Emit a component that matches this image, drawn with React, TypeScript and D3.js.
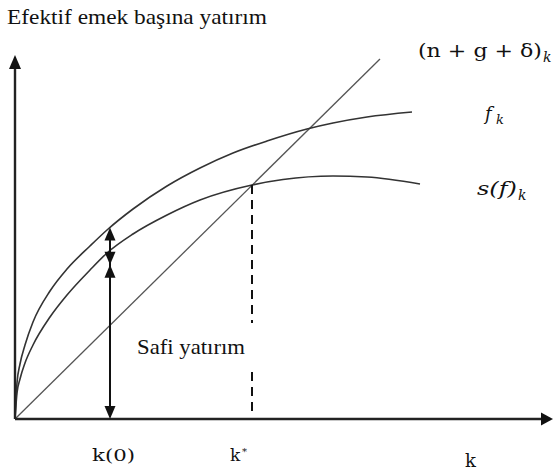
import React from 'react';
import * as d3 from 'd3';

const W = 553;
const H = 473;

// Capital per effective worker (k) and the heights of each curve at those k
const fK = [0, 2, 5, 10, 18, 35, 52, 75, 92, 118, 152, 185, 218, 252, 292, 318, 352, 397];
const fV = [0, 36, 55, 74, 97, 128, 150, 173, 189, 210, 233, 251, 266, 278, 290, 296, 302, 307];
const sK = [0, 2, 5, 10, 18, 35, 52, 75, 92, 118, 152, 185, 237, 268, 318, 352, 405];
const sV = [0, 26, 40, 56, 74, 102, 124, 149, 166, 185, 204, 219, 234, 239.5, 243, 242, 235];
// Break-even investment line (n + g + δ)k
const lineK = [0, 365];
const lineV = [0, 360];
// Marked capital levels
const k0 = 95;
const kStar = 237;
const kMax = 538;
const vMax = 364;

const xAxisLabels = ['k(0)', 'k'];

const at = (ks: number[], vs: number[], k: number) => {
  const i = d3.bisectLeft(ks, k);
  if (ks[i] === k) return vs[i];
  const t = (k - ks[i - 1]) / (ks[i] - ks[i - 1]);
  return vs[i - 1] + t * (vs[i] - vs[i - 1]);
};

const serif: React.CSSProperties = { fontFamily: "'Liberation Serif', 'Times New Roman', serif" };
const math: React.CSSProperties = { fontFamily: "'DejaVu Serif', 'Liberation Serif', serif" };
const mathIt: React.CSSProperties = { ...math, fontStyle: 'italic' };

export default function App() {
  const x = d3.scaleLinear().domain([0, kMax]).range([15, 553]);
  const y = d3.scaleLinear().domain([0, vMax]).range([419, 55]);

  const curve = d3
    .line<[number, number]>()
    .x((d) => x(d[0]))
    .y((d) => y(d[1]))
    .curve(d3.curveMonotoneX);

  const fPath = curve(fK.map((k, i) => [k, fV[i]]) as [number, number][]) || '';
  const sPath = curve(sK.map((k, i) => [k, sV[i]]) as [number, number][]) || '';
  const linePath =
    d3
      .line<[number, number]>()
      .x((d) => x(d[0]))
      .y((d) => y(d[1]))(lineK.map((k, i) => [k, lineV[i]]) as [number, number][]) || '';

  const ox = x(0);
  const oy = y(0);
  const ax = x(k0);
  const yF = y(at(fK, fV, k0));
  const yS = y(at(sK, sV, k0));
  const sx = x(kStar);
  const ySs = y(at(sK, sV, kStar));

  const head = (tx: number, ty: number, dir: 'up' | 'down' | 'right', len = 13, half = 5.5) => {
    if (dir === 'up') return `M${tx},${ty}L${tx - half},${ty + len}L${tx + half},${ty + len}Z`;
    if (dir === 'down') return `M${tx},${ty}L${tx - half},${ty - len}L${tx + half},${ty - len}Z`;
    return `M${tx},${ty}L${tx - len},${ty - half}L${tx - len},${ty + half}Z`;
  };

  const midTip = yS + 14;

  return (
    <svg
      width={W}
      height={H}
      viewBox={`0 0 ${W} ${H}`}
      style={{ position: 'absolute', left: 0, top: 0, background: '#fff' }}
    >
      <rect width={W} height={H} fill="#fff" />

      {/* curves */}
      <path d={linePath} fill="none" stroke="#555" strokeWidth={1.3} />
      <path d={fPath} fill="none" stroke="#333" strokeWidth={1.6} />
      <path d={sPath} fill="none" stroke="#333" strokeWidth={1.6} />

      {/* axes */}
      <line x1={ox} y1={oy} x2={ox} y2={y(vMax) + 12} stroke="#222" strokeWidth={2.4} />
      <path d={head(ox, y(vMax), 'up', 14, 6)} fill="#111" />
      <line x1={ox} y1={oy} x2={x(kMax) - 10} y2={oy} stroke="#222" strokeWidth={2.4} />
      <path d={head(x(kMax), oy, 'right', 12, 6.5)} fill="#111" />

      {/* steady-state marker */}
      <line x1={sx} y1={ySs} x2={sx} y2={323} stroke="#111" strokeWidth={2} strokeDasharray="9 6" />
      <line x1={sx} y1={372} x2={sx} y2={414} stroke="#111" strokeWidth={2} strokeDasharray="9 6" />

      {/* investment arrows at k(0) */}
      <line x1={ax} y1={yF + 6} x2={ax} y2={oy - 6} stroke="#111" strokeWidth={2} />
      <path d={head(ax, yF, 'up')} fill="#111" />
      <path d={head(ax, midTip, 'down')} fill="#111" />
      <path d={head(ax, midTip, 'up')} fill="#111" />
      <path d={head(ax, oy, 'down')} fill="#111" />

      {/* labels */}
      <text x={7} y={24} style={serif} fontSize={22} fill="#111" textLength={260} lengthAdjust="spacingAndGlyphs">
        Efektif emek başına yatırım
      </text>
      <text x={137} y={354} style={serif} fontSize={21} fill="#111" textLength={108} lengthAdjust="spacingAndGlyphs">
        Safi yatırım
      </text>

      <text x={418} y={57} style={math} fontSize={18} fill="#111" textLength={124} lengthAdjust="spacingAndGlyphs">
        (n + g + δ)
      </text>
      <text x={543} y={62} style={mathIt} fontSize={14} fill="#111">
        k
      </text>

      <text x={485} y={120} style={mathIt} fontSize={18} fill="#111">
        f
      </text>
      <text x={496} y={124} style={mathIt} fontSize={13} fill="#111">
        k
      </text>

      <text x={477} y={195} style={mathIt} fontSize={18} fill="#111" textLength={40} lengthAdjust="spacingAndGlyphs">
        s(f)
      </text>
      <text x={518} y={200} style={mathIt} fontSize={14} fill="#111">
        k
      </text>

      <text x={92} y={461} style={math} fontSize={17} fill="#111" textLength={43} lengthAdjust="spacingAndGlyphs">
        {xAxisLabels[0]}
      </text>
      <text x={230} y={461} style={math} fontSize={17} fill="#111">
        k
      </text>
      <text x={242} y={455} style={math} fontSize={10} fill="#111">
        *
      </text>
      <text x={465} y={467} style={math} fontSize={18} fill="#111">
        {xAxisLabels[1]}
      </text>
    </svg>
  );
}
